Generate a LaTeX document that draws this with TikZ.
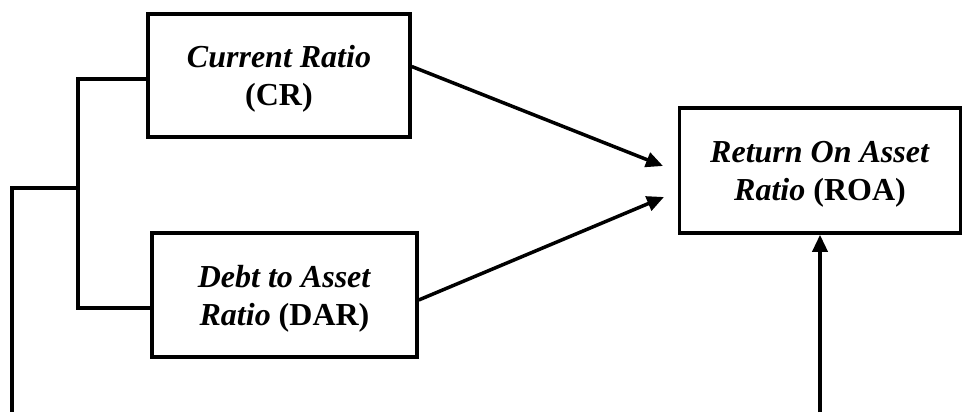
\documentclass[tikz,border=0pt]{standalone}
\usepackage{fontspec}
\setmainfont{Liberation Serif}
\usetikzlibrary{arrows.meta,calc}
\begin{document}
\begin{tikzpicture}[x=1pt,y=-1pt,
  line width=3.5pt,
  box/.style={draw,line width=3.5pt,align=center,inner sep=0pt,text depth=-2pt,
    font=\fontsize{32}{38}\selectfont\bfseries},
  arr/.style={-{Triangle[length=17pt,width=15pt]}}]
\useasboundingbox (0,0) rectangle (963,412);
\node[box,minimum width=262pt,minimum height=123pt] (CR) at (279,75.5)
  {\textit{Current Ratio}\\(CR)};
\node[box,minimum width=265pt,minimum height=124pt] (DAR) at (284.5,295)
  {\textit{Debt to Asset}\\\textit{Ratio} (DAR)};
\node[box,minimum width=281pt,minimum height=125pt] (ROA) at (820,170.5)
  {\textit{Return On Asset}\\\textit{Ratio} (ROA)};
\coordinate (t1) at (663,166);
\coordinate (t2) at (664,197);
\coordinate (j) at (78,188);
\coordinate (lb) at (12,412);
\coordinate (rb) at (820,412);
\draw[arr] ([yshift=9pt]CR.east) -- (t1);
\draw[arr] ([yshift=-5pt]DAR.east) -- (t2);
\draw ([yshift=-3.5pt]CR.west) -| (j) |- ([yshift=-13pt]DAR.west);
\draw (j) -| (lb);
\draw[arr] (rb) -- (ROA.south);
\end{tikzpicture}
\end{document}
